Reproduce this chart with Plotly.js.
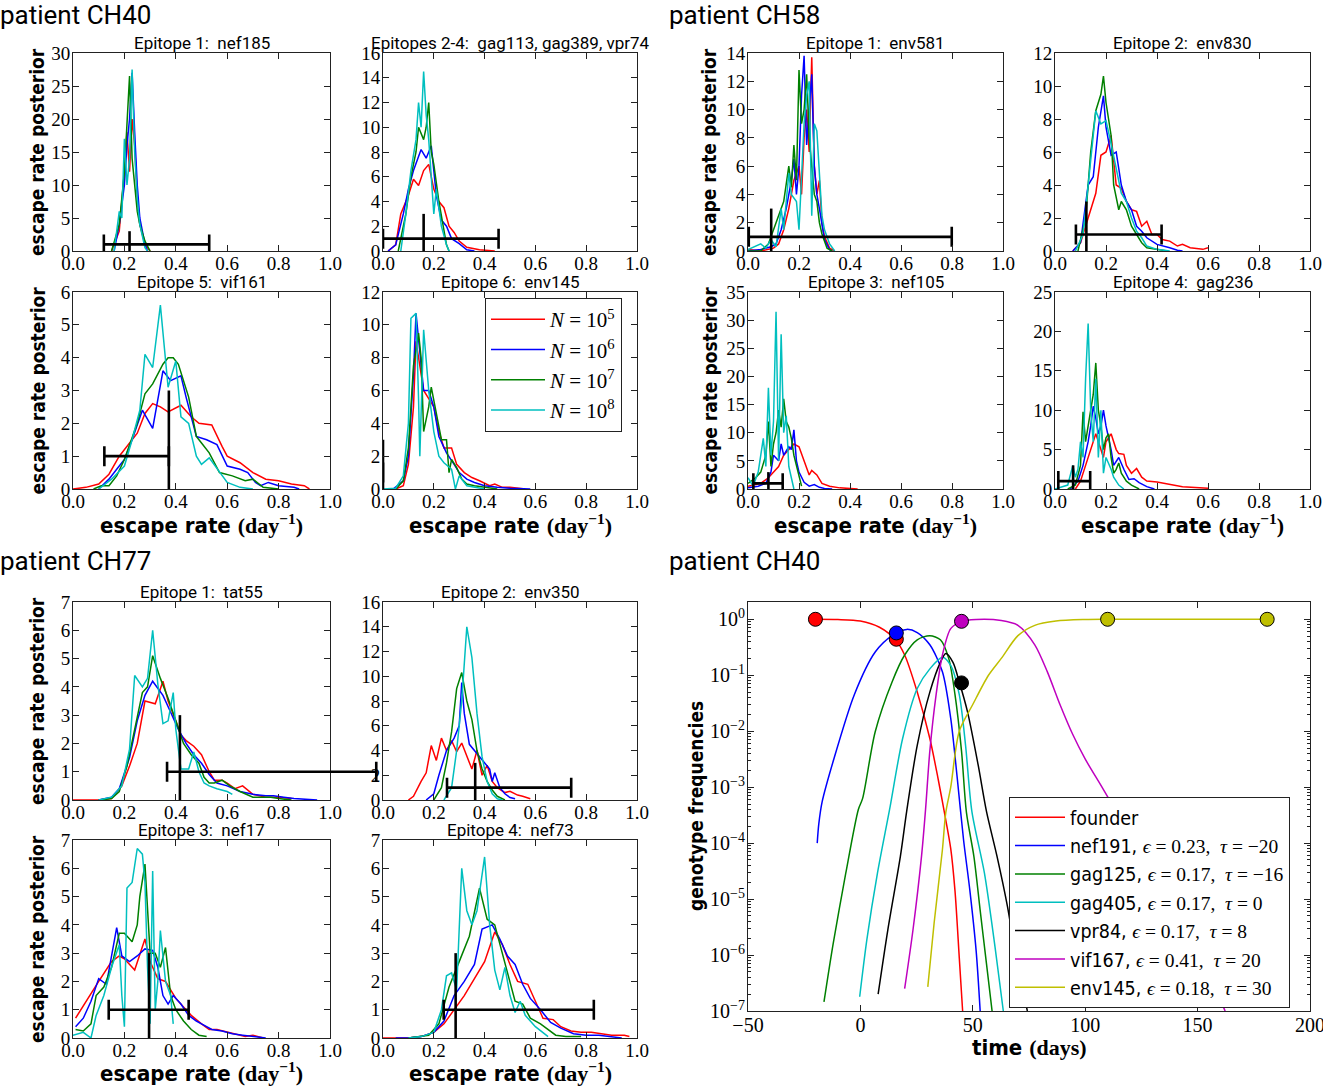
<!DOCTYPE html>
<html><head><meta charset="utf-8">
<script src="https://cdn.plot.ly/plotly-3.0.1.min.js"></script>
<style>body{margin:0;background:#fff}#chart{width:1323px;height:1088px}</style>
</head><body><div id="chart"></div>
<script>
// ---------------- DATA ----------------
const seriesNames = ['<i>N</i> = 10<sup>5</sup>', '<i>N</i> = 10<sup>6</sup>', '<i>N</i> = 10<sup>7</sup>', '<i>N</i> = 10<sup>8</sup>'];

// Patient CH40, Epitope 1: nef185  [rate, posterior]
const nef185_N5 = [[0.15,0],[0.18,3],[0.2,12],[0.21,18],[0.22,12],[0.23,20],[0.24,16],[0.25,8],[0.26,4],[0.28,1],[0.3,0]];
const nef185_N6 = [[0.16,0],[0.18,4],[0.2,10],[0.21,16],[0.22,20],[0.23,27],[0.24,18],[0.25,10],[0.26,5],[0.28,1],[0.29,0]];
const nef185_N7 = [[0.15,0],[0.18,4],[0.2,12],[0.21,20],[0.22,26.5],[0.23,14],[0.24,10],[0.25,6],[0.26,4],[0.28,1.5],[0.3,0]];
const nef185_N8 = [[0.16,0],[0.18,6],[0.19,5],[0.2,17],[0.21,10],[0.22,14],[0.23,27.5],[0.24,15],[0.25,8],[0.26,4],[0.28,0.5],[0.29,0]];
// Epitopes 2-4
const gag113_N5 = [[0.02,0],[0.05,0.5],[0.07,3],[0.1,4.5],[0.12,5.8],[0.14,5.3],[0.16,6.5],[0.18,7],[0.2,5],[0.22,4],[0.24,3.5],[0.26,2],[0.28,1.5],[0.3,0.8],[0.33,0.3],[0.38,0.1],[0.44,0]];
const gag113_N6 = [[0.02,0],[0.05,0.5],[0.08,3],[0.1,5],[0.12,6.5],[0.15,8.2],[0.17,7.5],[0.19,8.5],[0.21,4.5],[0.23,2.5],[0.25,2],[0.27,1],[0.3,0.6],[0.33,0.1],[0.36,0]];
const gag113_N7 = [[0.06,0],[0.09,3],[0.11,6],[0.13,8],[0.14,10],[0.16,9],[0.17,10],[0.18,12],[0.19,8],[0.2,7],[0.22,4],[0.24,1.5],[0.25,0.5],[0.26,0]];
const gag113_N8 = [[0.07,0],[0.09,3],[0.11,6.5],[0.13,9],[0.14,12],[0.15,10],[0.16,14.5],[0.17,11],[0.18,9],[0.19,6],[0.2,3],[0.21,5],[0.23,2],[0.25,0.5],[0.26,0]];
// Epitope 5: vif161
const vif161_N5 = [[0,0],[0.05,0.05],[0.1,0.15],[0.14,0.45],[0.18,1],[0.21,1.3],[0.25,1.7],[0.28,2.3],[0.31,2.6],[0.34,2.5],[0.37,2.35],[0.42,2.55],[0.46,2.2],[0.49,2],[0.54,1.95],[0.58,1.3],[0.6,1],[0.65,0.8],[0.7,0.5],[0.75,0.3],[0.8,0.25],[0.85,0.15],[0.9,0.1],[0.92,0]];
const vif161_N6 = [[0.1,0],[0.14,0.3],[0.17,0.6],[0.2,0.9],[0.23,1.5],[0.27,2.4],[0.31,1.85],[0.35,3.6],[0.38,3.3],[0.42,3.45],[0.44,2.8],[0.48,1.6],[0.52,1.5],[0.56,1.35],[0.6,0.7],[0.65,0.6],[0.68,0.5],[0.71,0.2],[0.73,0.1],[0.76,0.2],[0.8,0.1],[0.86,0.05],[0.88,0]];
const vif161_N7 = [[0.08,0],[0.11,0.1],[0.14,0.1],[0.17,0.4],[0.2,0.9],[0.25,2],[0.28,2.9],[0.31,3.2],[0.35,3.8],[0.37,4],[0.39,4],[0.41,3.8],[0.45,2.8],[0.48,1.6],[0.5,1.4],[0.53,1.1],[0.57,0.5],[0.62,0.4],[0.67,0.25],[0.7,0.3],[0.74,0.05],[0.8,0]];
const vif161_N8 = [[0.1,0],[0.15,0.3],[0.2,0.7],[0.23,1.5],[0.26,2.4],[0.28,4.1],[0.31,3.7],[0.34,5.6],[0.37,3.1],[0.4,3.9],[0.42,2.2],[0.45,2],[0.48,1],[0.5,0.75],[0.53,0.95],[0.57,0.5],[0.6,0.2],[0.65,0.05],[0.7,0]];
// Epitope 6: env145
const env145_N5 = [[0.05,0],[0.08,0.2],[0.1,1.5],[0.12,5],[0.13,9],[0.14,8],[0.16,6],[0.18,5.5],[0.2,5],[0.22,3.5],[0.24,2.5],[0.27,2.5],[0.29,1.5],[0.32,1],[0.35,0.7],[0.38,0.5],[0.42,0.2],[0.44,0.3],[0.47,0.1],[0.5,0.1],[0.55,0.05],[0.56,0]];
const env145_N6 = [[0.04,0],[0.08,0.5],[0.1,2],[0.12,7],[0.13,10.7],[0.14,9],[0.16,6],[0.18,6],[0.2,5],[0.22,3.2],[0.25,2.2],[0.28,1.5],[0.3,1],[0.33,0.6],[0.36,0.4],[0.4,0.2],[0.45,0.1],[0.5,0.05],[0.58,0]];
const env145_N7 = [[0.05,0],[0.08,0.5],[0.1,2.5],[0.12,7.5],[0.14,9.5],[0.15,8],[0.16,3.5],[0.18,5],[0.19,6.2],[0.21,4.5],[0.23,3],[0.25,3],[0.26,1],[0.27,1.8],[0.29,1.3],[0.31,0.6],[0.33,0.3],[0.36,0.2],[0.4,0.1],[0.45,0]];
const env145_N8 = [[0,0],[0.05,0.05],[0.08,0.8],[0.1,4],[0.11,10.4],[0.13,10.7],[0.14,5.5],[0.145,2],[0.16,9.7],[0.18,6],[0.2,3.5],[0.22,2],[0.24,1.6],[0.27,1.2],[0.285,0],[0.3,0.8],[0.33,0.2],[0.36,0.1],[0.4,0]];

// Patient CH58, Epitope 1: env581
const env581_N5 = [[0,0.1],[0.05,0],[0.1,0.2],[0.12,0.5],[0.14,1.5],[0.16,3],[0.18,5],[0.2,6],[0.21,4],[0.22,8],[0.23,10],[0.24,7],[0.25,13.7],[0.26,6],[0.27,4],[0.28,5],[0.29,2],[0.3,1],[0.32,0.2],[0.34,0]];
const env581_N6 = [[0,0],[0.05,0.1],[0.09,0.3],[0.11,0.5],[0.13,1.5],[0.15,3],[0.17,5],[0.18,6.5],[0.19,4],[0.2,6],[0.21,11],[0.22,13.8],[0.23,7.5],[0.24,10],[0.25,12.5],[0.26,6],[0.27,4],[0.28,3],[0.29,2],[0.3,0.8],[0.32,0.1],[0.33,0]];
const env581_N7 = [[0,0],[0.05,0],[0.08,0.5],[0.1,1.5],[0.12,2.5],[0.14,3.5],[0.16,6],[0.17,4.5],[0.18,7.5],[0.19,5],[0.2,12.8],[0.21,9],[0.22,10],[0.23,12.5],[0.24,8],[0.25,6],[0.26,4],[0.27,3.5],[0.28,2],[0.29,1.2],[0.31,0.2],[0.33,0]];
const env581_N8 = [[0,0.1],[0.05,0.5],[0.07,0.2],[0.09,0.8],[0.11,0.3],[0.13,3],[0.14,1.5],[0.16,5.5],[0.17,4],[0.19,3.5],[0.2,1.5],[0.21,5.5],[0.22,9],[0.23,11],[0.24,12],[0.25,2.5],[0.26,9],[0.27,8.5],[0.28,5],[0.29,2.5],[0.3,1.5],[0.32,0.5],[0.34,0]];
// Epitope 2: env830
const env830_N5 = [[0.07,0],[0.1,0.5],[0.13,2],[0.16,3.5],[0.18,5.8],[0.2,6],[0.22,7],[0.24,4],[0.26,3.8],[0.28,3],[0.3,2.5],[0.32,2.4],[0.34,1.5],[0.36,1.8],[0.38,1],[0.4,1],[0.42,0.7],[0.45,0.6],[0.48,0.3],[0.5,0.4],[0.53,0.2],[0.56,0.15],[0.58,0.1],[0.6,0.2]];
const env830_N6 = [[0.07,0],[0.1,0.5],[0.13,4],[0.15,4.5],[0.17,7.5],[0.19,9.4],[0.2,7.5],[0.22,5.8],[0.24,6],[0.26,4],[0.28,3],[0.3,2.5],[0.32,1.5],[0.34,1.2],[0.36,0.8],[0.4,0.4],[0.45,0.2],[0.48,0.05],[0.5,0]];
const env830_N7 = [[0.09,0],[0.12,2],[0.14,6],[0.16,8.5],[0.18,9.5],[0.19,10.6],[0.2,9],[0.22,7],[0.23,4],[0.25,2.5],[0.26,3],[0.28,2.5],[0.3,1.5],[0.32,1],[0.34,0.5],[0.36,0.2],[0.4,0.1],[0.44,0]];
const env830_N8 = [[0.08,0],[0.11,1],[0.13,4],[0.15,7],[0.16,8.5],[0.18,7.7],[0.2,7.9],[0.22,6.5],[0.24,5],[0.26,3.5],[0.28,3],[0.3,2],[0.32,1.2],[0.34,0.8],[0.36,0.3],[0.4,0.1],[0.45,0]];
// Epitope 3: nef105
const nef105_N5 = [[0,0.5],[0.05,1],[0.08,2],[0.1,3],[0.12,4],[0.14,6],[0.16,7],[0.18,8],[0.2,7.5],[0.22,5],[0.24,2.5],[0.25,3.3],[0.27,2.5],[0.29,1],[0.32,0.5],[0.36,0.2],[0.4,0.1],[0.43,0]];
const nef105_N6 = [[0,0.2],[0.04,0.5],[0.07,1],[0.09,3],[0.1,6],[0.12,5],[0.13,8],[0.14,6],[0.16,7.5],[0.17,7],[0.18,10.5],[0.19,5],[0.2,3],[0.22,1.2],[0.24,0.5],[0.26,0.8],[0.28,0.3],[0.3,0.1],[0.33,0]];
const nef105_N7 = [[0,1],[0.03,2],[0.05,3],[0.07,6],[0.08,12],[0.09,4],[0.1,8],[0.11,10],[0.12,14],[0.13,11],[0.14,16],[0.15,12],[0.16,11],[0.17,9],[0.18,6],[0.19,4],[0.2,2],[0.21,0.5]];
const nef105_N8 = [[0,2],[0.02,0.5],[0.04,3],[0.06,9],[0.07,4],[0.08,18],[0.09,6],[0.1,12],[0.11,31.5],[0.12,5],[0.13,27.5],[0.14,10],[0.15,13],[0.16,4],[0.17,2],[0.18,0]];
// Epitope 4: gag236
const gag236_N5 = [[0.08,0],[0.1,1],[0.12,3],[0.14,5],[0.16,7],[0.18,5],[0.19,4],[0.2,6],[0.22,7],[0.24,5],[0.25,4.5],[0.27,4.4],[0.28,3],[0.3,2],[0.32,2.6],[0.34,1.5],[0.36,1],[0.4,0.9],[0.45,0.6],[0.5,0.3],[0.55,0.2],[0.6,0.1]];
const gag236_N6 = [[0.06,0],[0.09,1],[0.11,3],[0.13,6],[0.14,8],[0.15,10.5],[0.16,9],[0.17,7],[0.18,8],[0.19,10],[0.2,8],[0.22,5],[0.23,3],[0.25,4],[0.27,2.5],[0.29,1.2],[0.31,1.3],[0.33,0.8],[0.36,0.3],[0.39,0]];
const gag236_N7 = [[0.05,0],[0.08,0.5],[0.1,3],[0.11,9.8],[0.12,6],[0.13,8],[0.15,12],[0.16,16],[0.17,10],[0.18,8],[0.19,5],[0.2,6.5],[0.21,7],[0.22,4],[0.23,2],[0.24,2.5],[0.25,3.3],[0.26,2],[0.28,1],[0.3,0.5],[0.32,0.1],[0.33,0]];
const gag236_N8 = [[0,0],[0.05,0.5],[0.07,3],[0.08,1.5],[0.09,2.5],[0.1,6],[0.11,4],[0.12,14],[0.13,21],[0.14,10],[0.15,6],[0.16,14],[0.17,4],[0.18,10],[0.19,2],[0.2,4],[0.22,2.5],[0.23,1.5],[0.25,0.5],[0.27,0]];

// Patient CH77, Epitope 1: tat55
const tat55_N5 = [[0,0],[0.1,0],[0.15,0.05],[0.19,0.5],[0.22,1.2],[0.25,2],[0.28,3.5],[0.32,3.4],[0.35,4.2],[0.37,3.5],[0.4,2.8],[0.42,2.3],[0.44,2.1],[0.47,1.9],[0.5,1.6],[0.53,1],[0.55,0.7],[0.58,0.7],[0.6,0.6],[0.63,0.4],[0.66,0.5],[0.7,0.2],[0.75,0.1],[0.8,0.1],[0.85,0.05]];
const tat55_N6 = [[0.1,0],[0.15,0.1],[0.18,0.4],[0.22,1.5],[0.25,2.8],[0.28,3.7],[0.31,4.2],[0.35,3.7],[0.38,3.1],[0.41,2.5],[0.44,2],[0.47,1.6],[0.5,1.3],[0.53,0.9],[0.56,0.6],[0.6,0.5],[0.65,0.3],[0.7,0.2],[0.75,0.15],[0.78,0.15],[0.82,0.1],[0.86,0.05],[0.95,0]];
const tat55_N7 = [[0.1,0],[0.15,0.05],[0.18,0.3],[0.21,1.2],[0.24,2.5],[0.27,3.8],[0.29,4],[0.31,5.1],[0.34,4.3],[0.37,3.6],[0.4,2.8],[0.43,2],[0.46,1.6],[0.49,1.3],[0.51,0.8],[0.53,0.6],[0.55,0.6],[0.58,0.7],[0.61,0.5],[0.65,0.3],[0.7,0.1],[0.77,0.1],[0.8,0.05],[0.85,0]];
const tat55_N8 = [[0.1,0],[0.15,0.1],[0.19,0.5],[0.22,1.8],[0.24,4.4],[0.27,4],[0.29,4.3],[0.31,6],[0.33,4.1],[0.35,2.7],[0.37,2.8],[0.39,3.8],[0.4,2.5],[0.42,1.1],[0.45,1.1],[0.47,1.7],[0.49,1],[0.51,0.6],[0.53,0.5],[0.56,0.4],[0.6,0.3],[0.62,0.2]];
// Epitope 2: env350
const env350_N5 = [[0.1,0],[0.12,0.3],[0.15,1.5],[0.17,2.2],[0.19,4.4],[0.21,3.2],[0.23,5],[0.25,4],[0.27,4.8],[0.29,3.9],[0.31,4.6],[0.33,3.5],[0.35,2.5],[0.37,4],[0.39,2],[0.41,2.8],[0.43,1.5],[0.45,1],[0.48,0.6],[0.5,0.7],[0.53,0.4],[0.55,0.3],[0.58,0.1]];
const env350_N6 = [[0.17,0],[0.2,0.5],[0.22,2],[0.25,4],[0.28,5],[0.3,6],[0.31,9.5],[0.32,7],[0.34,4.5],[0.36,4],[0.38,3.5],[0.4,3],[0.42,2.5],[0.43,1.5],[0.44,2.2],[0.46,1],[0.48,0.5],[0.5,0.2],[0.52,0.1]];
const env350_N7 = [[0.2,0],[0.23,1],[0.25,3],[0.27,5.5],[0.29,9],[0.31,10.3],[0.33,8],[0.35,6.5],[0.37,4],[0.39,2.5],[0.41,1.5],[0.43,0.8],[0.45,0.3],[0.48,0]];
const env350_N8 = [[0.24,0],[0.27,1],[0.29,4],[0.31,8],[0.33,14],[0.35,11.5],[0.37,7],[0.39,3.5],[0.41,1.5],[0.43,0.5],[0.45,0.1],[0.47,0]];
// Epitope 3: nef17
const nef17_N5 = [[0.01,0.7],[0.05,1.3],[0.1,2],[0.15,2.7],[0.18,2.9],[0.2,2.8],[0.24,2.4],[0.28,3.5],[0.3,2.7],[0.33,2.1],[0.36,2],[0.38,1.7],[0.4,1.4],[0.43,1.1],[0.46,0.8],[0.5,0.5],[0.53,0.3],[0.56,0.3],[0.6,0.2],[0.64,0.1],[0.67,0.05],[0.7,0.1],[0.74,0]];
const nef17_N6 = [[0.01,0.4],[0.04,0.7],[0.07,1.3],[0.1,2.1],[0.13,1.9],[0.17,3.9],[0.19,2.9],[0.22,2.7],[0.25,2.9],[0.28,3.15],[0.31,3.1],[0.33,2.5],[0.35,1.5],[0.37,1.2],[0.39,1.5],[0.42,1.2],[0.45,0.8],[0.48,0.6],[0.5,0.5],[0.54,0.3],[0.58,0.25],[0.62,0.15],[0.66,0.1],[0.7,0.05],[0.75,0]];
const nef17_N7 = [[0.01,0.3],[0.04,0.25],[0.07,0.5],[0.09,1.5],[0.12,1.8],[0.15,2.5],[0.18,3.7],[0.2,3.7],[0.23,3.4],[0.25,4],[0.26,5],[0.28,6.15],[0.3,3],[0.32,3],[0.34,2.5],[0.36,3.2],[0.38,1.5],[0.4,1],[0.43,0.6],[0.46,0.3],[0.49,0.1],[0.52,0.05]];
const nef17_N8 = [[0,0.1],[0.04,0.2],[0.07,0],[0.09,0.8],[0.12,1.5],[0.15,2.5],[0.18,3.3],[0.19,1.5],[0.2,0.4],[0.21,5.3],[0.23,5.5],[0.25,6.7],[0.27,6.5],[0.28,5.5],[0.29,2.5],[0.3,0.5],[0.31,5.9],[0.32,1],[0.33,2],[0.34,3.8],[0.36,2],[0.38,1.5],[0.39,0.5]];
// Epitope 4: nef73
const nef73_N5 = [[0,0],[0.1,0],[0.15,0.05],[0.2,0.2],[0.24,0.5],[0.28,1],[0.32,1.5],[0.36,2.1],[0.4,2.7],[0.44,3.75],[0.47,3.3],[0.5,2.6],[0.53,2],[0.57,1.9],[0.6,1.3],[0.63,0.7],[0.67,0.65],[0.7,0.4],[0.74,0.25],[0.78,0.2],[0.82,0.2],[0.86,0.15],[0.9,0.1],[0.95,0.1],[0.97,0.05]];
const nef73_N6 = [[0.05,0],[0.1,0],[0.15,0.05],[0.2,0.2],[0.24,0.6],[0.28,1.5],[0.32,2],[0.36,2.6],[0.39,3.85],[0.43,4],[0.46,3.5],[0.49,2.9],[0.52,2.6],[0.55,1.9],[0.58,1.4],[0.62,1],[0.66,0.55],[0.7,0.35],[0.75,0.15],[0.8,0.1],[0.85,0.1],[0.9,0.05],[0.94,0]];
const nef73_N7 = [[0.1,0],[0.15,0.05],[0.18,0.1],[0.22,0.5],[0.26,1.8],[0.3,2.7],[0.34,3.6],[0.38,5.3],[0.41,4.2],[0.44,4],[0.47,3],[0.5,2],[0.52,1.3],[0.55,1.2],[0.58,0.7],[0.62,0.5],[0.65,0.3],[0.68,0.1],[0.72,0.05],[0.78,0.05]];
const nef73_N8 = [[0.1,0],[0.15,0.05],[0.2,0.2],[0.23,1],[0.25,2.2],[0.27,2.3],[0.29,1.7],[0.31,6],[0.33,4.5],[0.35,4],[0.37,4.5],[0.4,6.4],[0.42,4],[0.44,2.4],[0.46,1.7],[0.48,2.5],[0.5,1.5],[0.52,0.9],[0.54,1.3],[0.56,0.8],[0.6,0.4],[0.63,0.2],[0.65,0.05]];

// Point estimates with intervals (lower, estimate, upper) per epitope
const estLow  = [0.12, 0.0, 0.122, -0.1, 0.003, 0.082, 0.021, 0.013, 0.366, 0.252, 0.139, 0.239];
const estMid  = [0.22, 0.16, 0.373, 0.0, 0.091, 0.123, 0.08, 0.071, 0.416, 0.363, 0.296, 0.286];
const estHigh = [0.53, 0.455, 0.373, 0.0, 0.799, 0.418, 0.136, 0.138, 1.18, 0.741, 0.45, 0.83];
const estBarLevel = 1;      // horizontal interval drawn at posterior = 1
const estMarkTop = 3;       // estimate marker spans posterior 0..3

const panelTitles = ['Epitope 1:\u00a0 nef185', 'Epitopes 2-4:\u00a0 gag113, gag389, vpr74', 'Epitope 5:\u00a0 vif161', 'Epitope 6:\u00a0 env145',
  'Epitope 1:\u00a0 env581', 'Epitope 2:\u00a0 env830', 'Epitope 3:\u00a0 nef105', 'Epitope 4:\u00a0 gag236',
  'Epitope 1:\u00a0 tat55', 'Epitope 2:\u00a0 env350', 'Epitope 3:\u00a0 nef17', 'Epitope 4:\u00a0 nef73'];
const panelYMax  = [30, 16, 6, 12, 14, 12, 35, 25, 7, 16, 7, 7];
const panelYStep = [5, 2, 1, 2, 2, 2, 5, 5, 1, 2, 1, 1];
const panelSeries = [
  [nef185_N5, nef185_N6, nef185_N7, nef185_N8],
  [gag113_N5, gag113_N6, gag113_N7, gag113_N8],
  [vif161_N5, vif161_N6, vif161_N7, vif161_N8],
  [env145_N5, env145_N6, env145_N7, env145_N8],
  [env581_N5, env581_N6, env581_N7, env581_N8],
  [env830_N5, env830_N6, env830_N7, env830_N8],
  [nef105_N5, nef105_N6, nef105_N7, nef105_N8],
  [gag236_N5, gag236_N6, gag236_N7, gag236_N8],
  [tat55_N5, tat55_N6, tat55_N7, tat55_N8],
  [env350_N5, env350_N6, env350_N7, env350_N8],
  [nef17_N5, nef17_N6, nef17_N7, nef17_N8],
  [nef73_N5, nef73_N6, nef73_N7, nef73_N8]
];
const xTickVals = [0, 0.2, 0.4, 0.6, 0.8, 1.0];
const xTickText = ['0.0', '0.2', '0.4', '0.6', '0.8', '1.0'];

// Genotype frequency trajectories, patient CH40 [day, frequency]
const founderTraj = [[-20,1],[-10,0.99],[0,0.93],[8.5,0.72],[15.6,0.43],[19.7,0.23],[25.3,0.05],[30.9,7.4e-3],[34.6,1.4e-3],[37.4,3.5e-4],[40.2,8e-5],[42.1,1.4e-5],[44,9e-7],[45.5,1e-7]];
const nef191Traj = [[-19.2,1e-4],[-18.5,2.2e-4],[-17,5.5e-4],[-12.1,2.9e-3],[-2.7,0.045],[6.6,0.26],[14.1,0.51],[20.6,0.66],[25.3,0.58],[30.9,0.35],[36.5,0.115],[40.2,0.017],[43.1,1.45e-3],[45.9,1.15e-4],[48.7,1.45e-5],[51.5,1.2e-6],[53.3,1e-7]];
const gag125Traj = [[-16.2,1.45e-7],[-12.1,1.6e-6],[-6.5,2.9e-5],[-0.9,4e-4],[1,6.3e-4],[6.6,9.8e-3],[14.1,0.076],[19.7,0.23],[25.3,0.43],[30.9,0.51],[35.6,0.43],[39.3,0.2],[42.1,0.045],[45,4.4e-3],[47.2,3.5e-4],[50.5,5.8e-5],[53.3,6.3e-6],[56.1,7e-7],[58.6,1e-7]];
const gag405Traj = [[-0.3,1.8e-7],[2.9,1.9e-6],[7.6,2.9e-5],[13,4e-4],[18.8,7.4e-3],[25.3,0.058],[30.9,0.13],[36.5,0.21],[40.2,0.15],[44,0.045],[46.8,5.6e-3],[49.6,3.7e-4],[55.2,2.9e-5],[59.9,1.4e-6],[63.6,1e-7]];
const vpr84Traj  = [[7.9,2e-7],[12.2,2.8e-6],[17.8,5.8e-5],[20.6,3.7e-4],[25.3,5.6e-3],[30.9,0.05],[35.6,0.17],[38,0.245],[41.2,0.17],[44,0.076],[47.7,0.022],[52.4,2.5e-3],[56.1,3.7e-4],[60.8,5.8e-5],[65.5,7.2e-6],[69.2,9.3e-7],[74.3,1e-7]];
const vif167Traj = [[19.7,2.5e-7],[23.4,2.8e-6],[27.2,5.8e-5],[29,4e-4],[30.9,4.4e-3],[33.7,0.045],[36.5,0.23],[40.2,0.68],[44.9,0.91],[51.5,0.99],[62.7,0.95],[70.1,0.78],[77.6,0.35],[83.2,0.115],[88.8,0.03],[94.4,8.9e-3],[100,3.2e-3],[107.5,1e-3],[114.1,3.5e-4],[137,8e-6],[160.8,1.35e-7],[162.3,1e-7]];
const env145Traj = [[30,2.7e-7],[32.8,3.7e-6],[36.5,7.6e-5],[38,3.5e-4],[40.2,1e-3],[44,1e-2],[50,0.03],[57,0.1],[62.7,0.2],[70.1,0.51],[77.6,0.78],[87,0.93],[100,0.99],[110,1],[181,1]];
// Sampled genotype frequencies (dots)
const founderObs = [[-20,1],[16,0.44]];
const nef191Obs  = [[16,0.57]];
const vif167Obs  = [[45,0.92]];
const vpr84Obs   = [[45,0.073]];
const env145Obs  = [[110,1],[181,1]];
const MATH = 'font-family:Liberation Serif';
const genoNames = ['founder',
  'nef191, <span style="' + MATH + '"><i>ϵ</i> = 0.23,\u00a0 <i>τ</i> = −20</span>',
  'gag125, <span style="' + MATH + '"><i>ϵ</i> = 0.17,\u00a0 <i>τ</i> = −16</span>',
  'gag405, <span style="' + MATH + '"><i>ϵ</i> = 0.17,\u00a0 <i>τ</i> = 0</span>',
  'vpr84, <span style="' + MATH + '"><i>ϵ</i> = 0.17,\u00a0 <i>τ</i> = 8</span>',
  'vif167, <span style="' + MATH + '"><i>ϵ</i> = 0.41,\u00a0 <i>τ</i> = 20</span>',
  'env145, <span style="' + MATH + '"><i>ϵ</i> = 0.18,\u00a0 <i>τ</i> = 30</span>'];
const timeTickVals = [-50, 0, 50, 100, 150, 200];
const logTickVals = [1e-7, 1e-6, 1e-5, 1e-4, 1e-3, 1e-2, 1e-1, 1];
const logTickText = ['10<sup>−7</sup>','10<sup>−6</sup>','10<sup>−5</sup>','10<sup>−4</sup>','10<sup>−3</sup>','10<sup>−2</sup>','10<sup>−1</sup>','10<sup>0</sup>'];

// ---------------- STYLE / LAYOUT ----------------
const W = 1323, H = 1088;
const SERIF = 'Liberation Serif, DejaVu Serif, serif';
const SANS = 'Roboto, Liberation Sans, sans-serif';
const NARROW = 'Liberation Sans Narrow, DejaVu Sans Condensed, Roboto, sans-serif';
const histColors = ['#ff0000', '#0000ff', '#008000', '#00bfbf'];
const genoColors = ['#ff0000', '#0000ff', '#008000', '#00bfbf', '#000000', '#bf00bf', '#bfbf00'];
const colPx = [[73,330],[383,637],[748,1003],[1055,1310]];
const rowPx = [[53,251],[292,489],[602,800],[840,1038]];
const panelCol = [0,1,0,1, 2,3,2,3, 0,1,0,1];
const panelRow = [0,0,1,1, 0,0,1,1, 2,2,3,3];
// panel whose interval runs past its right edge gets an extended, invisible overlay axis
const overflowPanel = 8;

const xd = (l, r) => [l / W, r / W];
const yd = (t, b) => [1 - b / H, 1 - t / H];
const baseAxis = () => ({
  showline: true, linecolor: '#222', linewidth: 1, mirror: 'allticks',
  ticks: 'inside', ticklen: 6, tickwidth: 1, tickcolor: '#222',
  showgrid: false, zeroline: false, fixedrange: true, ticklabeloverflow: 'allow',
  tickfont: {family: SERIF, size: 19, color: '#000'}
});

const traces = [];
const layout = {
  width: W, height: H, margin: {l: 0, r: 0, t: 0, b: 0},
  paper_bgcolor: '#fff', plot_bgcolor: 'rgba(0,0,0,0)', showlegend: true,
  legend: {x: 485 / W, y: 1 - 298 / H, xanchor: 'left', yanchor: 'top', bgcolor: '#fff',
    bordercolor: '#222', borderwidth: 1, font: {family: SERIF, size: 21, color: '#000'},
    itemwidth: 54, tracegroupgap: 0},
  legend2: {x: 1009 / W, y: 1 - 797 / H, xanchor: 'left', yanchor: 'top', bgcolor: '#fff',
    bordercolor: '#222', borderwidth: 1, font: {family: NARROW, size: 19.5, color: '#000'},
    itemwidth: 50, tracegroupgap: 0},
  annotations: []
};

panelSeries.forEach((series, i) => {
  const k = i + 1;
  const xa = 'x' + (k === 1 ? '' : k), ya = 'y' + (k === 1 ? '' : k);
  const c = colPx[panelCol[i]], r = rowPx[panelRow[i]];
  layout['xaxis' + (k === 1 ? '' : k)] = Object.assign(baseAxis(), {
    domain: xd(c[0], c[1]), anchor: ya, range: [0, 1], tickvals: xTickVals, ticktext: xTickText, ticklabelstandoff: -5});
  layout['yaxis' + (k === 1 ? '' : k)] = Object.assign(baseAxis(), {
    domain: yd(r[0], r[1]), anchor: xa, range: [0, panelYMax[i]], dtick: panelYStep[i], tick0: 0, ticklabelstandoff: -2});
  series.forEach((pts, s) => {
    traces.push({
      type: 'scatter', mode: 'lines', x: pts.map(p => p[0]), y: pts.map(p => p[1]),
      xaxis: xa, yaxis: ya, line: {color: histColors[s], width: 1.5},
      name: seriesNames[s], legend: 'legend', legendgroup: 'N' + s,
      showlegend: i === 0, hoverinfo: 'skip'
    });
  });
  let ex = xa, ey = ya;
  if (i === overflowPanel) {
    // same scale as the panel, but extending to the next column's left edge
    const nextLeft = colPx[panelCol[i] + 1][0];
    layout.xaxis14 = {domain: xd(c[0], nextLeft), anchor: 'y14', range: [0, (nextLeft - c[0]) / (c[1] - c[0])], visible: false, fixedrange: true};
    layout.yaxis14 = {domain: yd(r[0], r[1]), anchor: 'x14', range: [0, panelYMax[i]], visible: false, fixedrange: true};
    ex = 'x14'; ey = 'y14';
  }
  traces.push({
    type: 'scatter', mode: 'markers', x: [estMid[i]], y: [estBarLevel], xaxis: ex, yaxis: ey,
    marker: {size: 1, color: '#000'}, showlegend: false, hoverinfo: 'skip',
    error_x: {type: 'data', symmetric: false, array: [estHigh[i] - estMid[i]], arrayminus: [estMid[i] - estLow[i]],
      color: '#000', thickness: 2.6, width: 10},
    error_y: {type: 'data', symmetric: false, array: [estMarkTop - estBarLevel], arrayminus: [estBarLevel],
      color: '#000', thickness: 2.6, width: 0}
  });
  layout.annotations.push({text: panelTitles[i], xref: 'paper', yref: 'paper',
    x: (c[0] + c[1]) / 2 / W, y: 1 - r[0] / H, xanchor: 'center', yanchor: 'bottom', yshift: -2,
    showarrow: false, font: {family: SANS, size: 17, color: '#000'}});
});

// Genotype frequency plot (axis 13)
layout.xaxis13 = Object.assign(baseAxis(), {domain: xd(748, 1310), anchor: 'y13', range: [-50, 200.05],
  tickvals: timeTickVals, tickfont: {family: SERIF, size: 20, color: '#000'}, ticklabelstandoff: -4});
layout.yaxis13 = Object.assign(baseAxis(), {domain: yd(602, 1011), anchor: 'x13', type: 'log', range: [-7, 0.309],
  tickvals: logTickVals, ticktext: logTickText, tickfont: {family: SERIF, size: 20, color: '#000'}, ticklabelstandoff: -2,
  minor: {ticks: 'inside', ticklen: 3, tickcolor: '#222', dtick: 'D1', showgrid: false}});

const trajs = [founderTraj, nef191Traj, gag125Traj, gag405Traj, vpr84Traj, vif167Traj, env145Traj];
trajs.forEach((pts, g) => {
  traces.push({type: 'scatter', mode: 'lines', x: pts.map(p => p[0]), y: pts.map(p => p[1]),
    xaxis: 'x13', yaxis: 'y13', line: {color: genoColors[g], width: 1.5, shape: 'spline', smoothing: 0.8},
    name: genoNames[g], legend: 'legend2', legendgroup: 'g' + g, showlegend: true, hoverinfo: 'skip'});
});
const obs = [[founderObs, 0], [nef191Obs, 1], [vpr84Obs, 4], [vif167Obs, 5], [env145Obs, 6]];
obs.forEach(([pts, g]) => {
  traces.push({type: 'scatter', mode: 'markers', x: pts.map(p => p[0]), y: pts.map(p => p[1]),
    xaxis: 'x13', yaxis: 'y13', marker: {size: 14, color: genoColors[g], line: {color: '#000', width: 1}},
    legend: 'legend2', legendgroup: 'g' + g, showlegend: false, hoverinfo: 'skip', cliponaxis: false});
});

// Figure text
const ann = (text, xpx, ypx, opts) => Object.assign({text, xref: 'paper', yref: 'paper', x: xpx / W, y: 1 - ypx / H,
  showarrow: false, xanchor: 'center', yanchor: 'middle'}, opts);
const bigFont = {family: SANS, size: 26, color: '#000'};
layout.annotations.push(ann('patient CH40', -2, 15, {xanchor: 'left', font: bigFont}));
layout.annotations.push(ann('patient CH58', 667, 15, {xanchor: 'left', font: bigFont}));
layout.annotations.push(ann('patient CH77', -2, 561, {xanchor: 'left', font: bigFont}));
layout.annotations.push(ann('patient CH40', 667, 561, {xanchor: 'left', font: bigFont}));

const yTitleFont = {family: NARROW, size: 19, color: '#000', weight: 'bold'};
[[37, 0], [37, 1], [709, 0], [709, 1], [37, 2], [37, 3]].forEach(([xp, ri]) => {
  const r = rowPx[ri];
  layout.annotations.push(ann('escape rate posterior', xp, (r[0] + r[1]) / 2, {textangle: -90, font: yTitleFont}));
});
const xTitle = 'escape rate <span style="' + MATH + '">(<b>day</b><sup>−1</sup>)</span>';
const xTitleFont = {family: NARROW, size: 22, color: '#000', weight: 'bold'};
[[0, 524], [1, 524], [2, 524], [3, 524], [0, 1072], [1, 1072]].forEach(([ci, yp]) => {
  const c = colPx[ci];
  layout.annotations.push(ann(xTitle, (c[0] + c[1]) / 2, yp, {font: xTitleFont}));
});
layout.annotations.push(ann('genotype frequencies', 696, 806, {textangle: -90, font: {family: NARROW, size: 19, color: '#000', weight: 'bold'}}));
layout.annotations.push(ann('time <span style="' + MATH + '">(<b>days</b>)</span>', 1029, 1047, {font: xTitleFont}));

Plotly.newPlot('chart', traces, layout, {staticPlot: true, displayModeBar: false});
</script></body></html>
